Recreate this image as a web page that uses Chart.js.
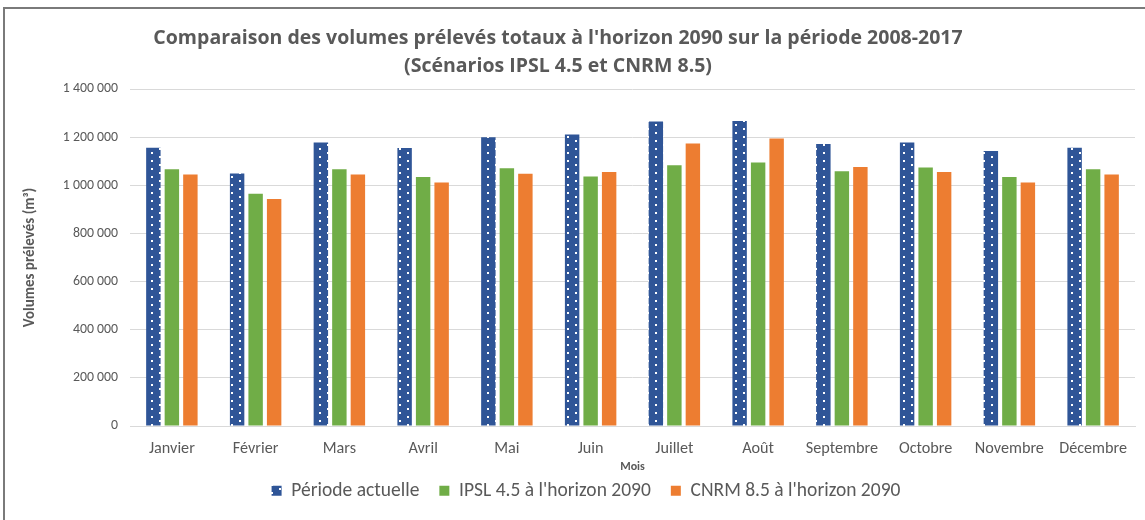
<!DOCTYPE html>
<html>
<head>
<meta charset="utf-8">
<script src="https://cdn.jsdelivr.net/npm/chart.js@4"></script>
<style>
html,body{margin:0;padding:0;background:#fff;overflow:hidden;}
#wrap{position:relative;width:1145px;height:520px;}
#frame{position:absolute;left:3px;top:7px;width:1300px;height:700px;border-left:2px solid #7a7a7a;border-top:2px solid #7a7a7a;pointer-events:none;}
canvas{position:absolute;left:0;top:0;}
</style>
</head>
<body>
<div id="wrap">
<canvas id="c" width="1145" height="520"></canvas>
<div id="frame"></div>
</div>
<script>
const months = ["Janvier","Février","Mars","Avril","Mai","Juin","Juillet","Août","Septembre","Octobre","Novembre","Décembre"];
const periodeActuelle = [1156000,1049000,1178000,1155000,1200000,1211000,1265000,1267000,1171000,1178000,1142000,1156000];
const ipsl45 = [1067000,965000,1067000,1034000,1071000,1037000,1083000,1095000,1058000,1074000,1034000,1067000];
const cnrm85 = [1045000,943000,1045000,1012000,1048000,1055000,1174000,1194000,1076000,1055000,1012000,1045000];
const seriesLabels = ["Période actuelle","IPSL 4.5 à l'horizon 2090","CNRM 8.5 à l'horizon 2090"];
const titleLines = ["Comparaison des volumes prélevés totaux à l'horizon 2090 sur la période 2008-2017","(Scénarios IPSL 4.5 et CNRM 8.5)"];
const yTitle = "Volumes prélevés (m³)";
const xTitle = "Mois";

const FONT = "Calibri, Carlito, Lato, sans-serif";
const TFONT = "'Open Sans', sans-serif";
const GREY = "#595959";

function makePattern(){
  const p = document.createElement('canvas');
  p.width = 16; p.height = 8;
  const g = p.getContext('2d');
  g.fillStyle = '#2F5597'; g.fillRect(0,0,16,8);
  g.fillStyle = '#ffffff';
  g.fillRect(7,0,2,2);
  g.fillRect(15,4,2,2);
  g.fillRect(-1,4,2,2);
  return g.createPattern(p,'repeat');
}
const blueFill = makePattern();

function fmt(v){ return String(v).replace(/\B(?=(\d{3})+(?!\d))/g,' '); }

const titlePlugin = {
  id:'customTitle',
  afterDraw(chart){
    const ctx = chart.ctx;
    ctx.save();
    ctx.fillStyle = GREY;
    ctx.font = "bold 20px " + TFONT;
    const w = ctx.measureText(titleLines[0]).width;
    const size = 20 * 810 / w;
    ctx.font = "bold " + size.toFixed(2) + "px " + TFONT;
    ctx.textAlign = 'center';
    ctx.textBaseline = 'middle';
    ctx.fillText(titleLines[0], 558, 38);
    ctx.fillText(titleLines[1], 558, 66);
    ctx.restore();
  }
};
const legendShift = {
  id:'legendShift',
  afterLayout(chart){
    const L = chart.legend;
    if(!L) return;
    const dx = 18.5;
    L.left += dx; L.right += dx;
    const h = L.bottom - L.top;
    L.top = 461; L.bottom = L.top + h;
  }
};

new Chart(document.getElementById('c'), {
  type:'bar',
  data:{
    labels: months,
    datasets:[
      {label: seriesLabels[0], data: periodeActuelle, backgroundColor: blueFill, borderWidth:0},
      {label: seriesLabels[1], data: ipsl45, backgroundColor: '#70AD47', borderWidth:0},
      {label: seriesLabels[2], data: cnrm85, backgroundColor: '#ED7D31', borderWidth:0}
    ]
  },
  plugins:[titlePlugin, legendShift],
  options:{
    responsive:false,
    animation:false,
    devicePixelRatio:1,
    layout:{padding:{top:89,left:0,right:10,bottom:0}},
    datasets:{bar:{categoryPercentage:0.663, barPercentage:0.78}},
    plugins:{
      title:{display:false},
      tooltip:{enabled:false},
      legend:{
        position:'bottom',
        labels:{font:{family:FONT,size:19.5}, color:GREY, boxWidth:10, boxHeight:10, padding:20}
      }
    },
    scales:{
      x:{
        grid:{display:false, drawTicks:false},
        border:{display:true,color:'#d9d9d9',width:1},
        ticks:{font:{family:FONT,size:16.2}, color:GREY, padding:13, maxRotation:0, autoSkip:false},
        title:{display:true, text:xTitle, font:{family:FONT,size:12,weight:'bold'}, color:GREY, padding:{top:0,bottom:-3.7}},
        afterFit(s){ s.height = 44.5; }
      },
      y:{
        min:0, max:1400000,
        ticks:{stepSize:200000, font:{family:FONT,size:13.8}, color:GREY, padding:12, callback:(v)=>fmt(v)},
        grid:{color:'#d9d9d9', lineWidth:1, drawTicks:false},
        border:{display:false},
        title:{display:true, text:yTitle, font:{family:FONT,size:15,weight:'bold'}, color:GREY, padding:{top:21,bottom:0}},
        afterFit(s){ s.width = 130; }
      }
    }
  }
});
</script>
</body>
</html>
